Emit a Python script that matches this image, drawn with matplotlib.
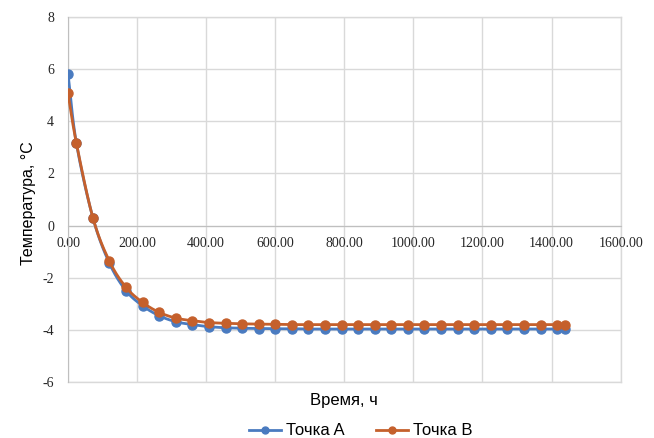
import numpy as np
import matplotlib
matplotlib.use("Agg")
import matplotlib.pyplot as plt

# время, ч
hours = [0, 24, 72, 120, 168, 216, 264, 312, 360, 408, 456, 504, 552, 600, 648,
         696, 744, 792, 840, 888, 936, 984, 1032, 1080, 1128, 1176, 1224, 1272,
         1320, 1368, 1416, 1440]
# температура в точке A, °C
temp_a = [5.83, 3.18, 0.30, -1.45, -2.50, -3.08, -3.46, -3.69, -3.80, -3.88,
          -3.92, -3.94, -3.95, -3.96, -3.96, -3.97, -3.97, -3.97, -3.97, -3.97,
          -3.97, -3.97, -3.97, -3.97, -3.97, -3.97, -3.97, -3.97, -3.97, -3.97,
          -3.97, -3.97]
# температура в точке B, °C
temp_b = [5.07, 3.18, 0.30, -1.37, -2.37, -2.95, -3.33, -3.55, -3.65, -3.72,
          -3.75, -3.77, -3.78, -3.79, -3.80, -3.80, -3.80, -3.80, -3.80, -3.80,
          -3.80, -3.80, -3.80, -3.80, -3.80, -3.80, -3.80, -3.80, -3.80, -3.80,
          -3.80, -3.80]

x_ticks = [0, 200, 400, 600, 800, 1000, 1200, 1400, 1600]
y_ticks = [-6, -4, -2, 0, 2, 4, 6, 8]

blue = "#4A7BC0"
orange = "#C5602C"
grid_c = "#D9D9D9"


def smooth(x, y, n=12):
    # catmull-rom, похоже на сглаженную линию Excel
    x = np.asarray(x, float)
    y = np.asarray(y, float)
    px = np.concatenate([[2 * x[0] - x[1]], x, [2 * x[-1] - x[-2]]])
    py = np.concatenate([[2 * y[0] - y[1]], y, [2 * y[-1] - y[-2]]])
    xs, ys = [], []
    t = np.linspace(0, 1, n, endpoint=False)
    for i in range(1, len(px) - 2):
        for p, out in ((px, xs), (py, ys)):
            p0, p1, p2, p3 = p[i - 1], p[i], p[i + 1], p[i + 2]
            out.extend(0.5 * (2 * p1 + (-p0 + p2) * t
                              + (2 * p0 - 5 * p1 + 4 * p2 - p3) * t ** 2
                              + (-p0 + 3 * p1 - 3 * p2 + p3) * t ** 3))
    xs.append(x[-1])
    ys.append(y[-1])
    return xs, ys


fig = plt.figure(figsize=(6.54, 4.38), dpi=100)
ax = fig.add_axes([0.104, 0.128, 0.845, 0.833])

ax.set_xlim(0, 1600)
ax.set_ylim(-6, 8)
ax.set_xticks(x_ticks)
ax.set_yticks(y_ticks)
ax.set_xticklabels(["%.2f" % v for v in x_ticks])
ax.set_yticklabels([str(v) for v in y_ticks])
ax.grid(True, color=grid_c, linewidth=1.0, zorder=0)
ax.axhline(-6, color=grid_c, linewidth=1.0, clip_on=False, zorder=0)
ax.axhline(8, color=grid_c, linewidth=1.0, clip_on=False, zorder=0)
ax.axvline(1600, color=grid_c, linewidth=1.0, clip_on=False, zorder=0)

for s in ["top", "right"]:
    ax.spines[s].set_visible(False)
ax.spines["left"].set_color("#BFBFBF")
ax.spines["bottom"].set_color("#BFBFBF")
ax.spines["bottom"].set_position(("data", 0))
ax.tick_params(length=0)
ax.tick_params(axis="x", pad=8)
ax.tick_params(axis="y", pad=10)
for lab in ax.get_xticklabels() + ax.get_yticklabels():
    lab.set_family("Liberation Serif")
    lab.set_fontsize(10)
    lab.set_color("#262626")

sx, sy = smooth(hours, temp_a)
ax.plot(sx, sy, color=blue, linewidth=2, zorder=3)
ax.plot(hours, temp_a, "o", color=blue, markersize=6.5, zorder=3)
sx, sy = smooth(hours, temp_b)
ax.plot(sx, sy, color=orange, linewidth=2, zorder=4)
ax.plot(hours, temp_b, "o", color=orange, markersize=6.5, zorder=4)

ax.set_xlabel("Время, ч", family="Liberation Sans", fontsize=12)
ax.xaxis.set_label_coords(0.5, -0.03)
ax.set_ylabel("Температура, °C", family="Liberation Sans", fontsize=11.5)
ax.yaxis.set_label_coords(-0.058, 0.49)

h_a = plt.Line2D([], [], color=blue, linewidth=2, marker="o", markersize=5)
h_b = plt.Line2D([], [], color=orange, linewidth=2, marker="o", markersize=5)
fig.legend([h_a, h_b], ["Точка A", "Точка B"], loc="center",
           bbox_to_anchor=(0.552, 0.016), ncol=2, frameon=False,
           prop={"family": "Liberation Sans", "size": 12},
           handlelength=1.9, handletextpad=0.3, columnspacing=1.9)

fig.savefig("out.png", dpi=100)
